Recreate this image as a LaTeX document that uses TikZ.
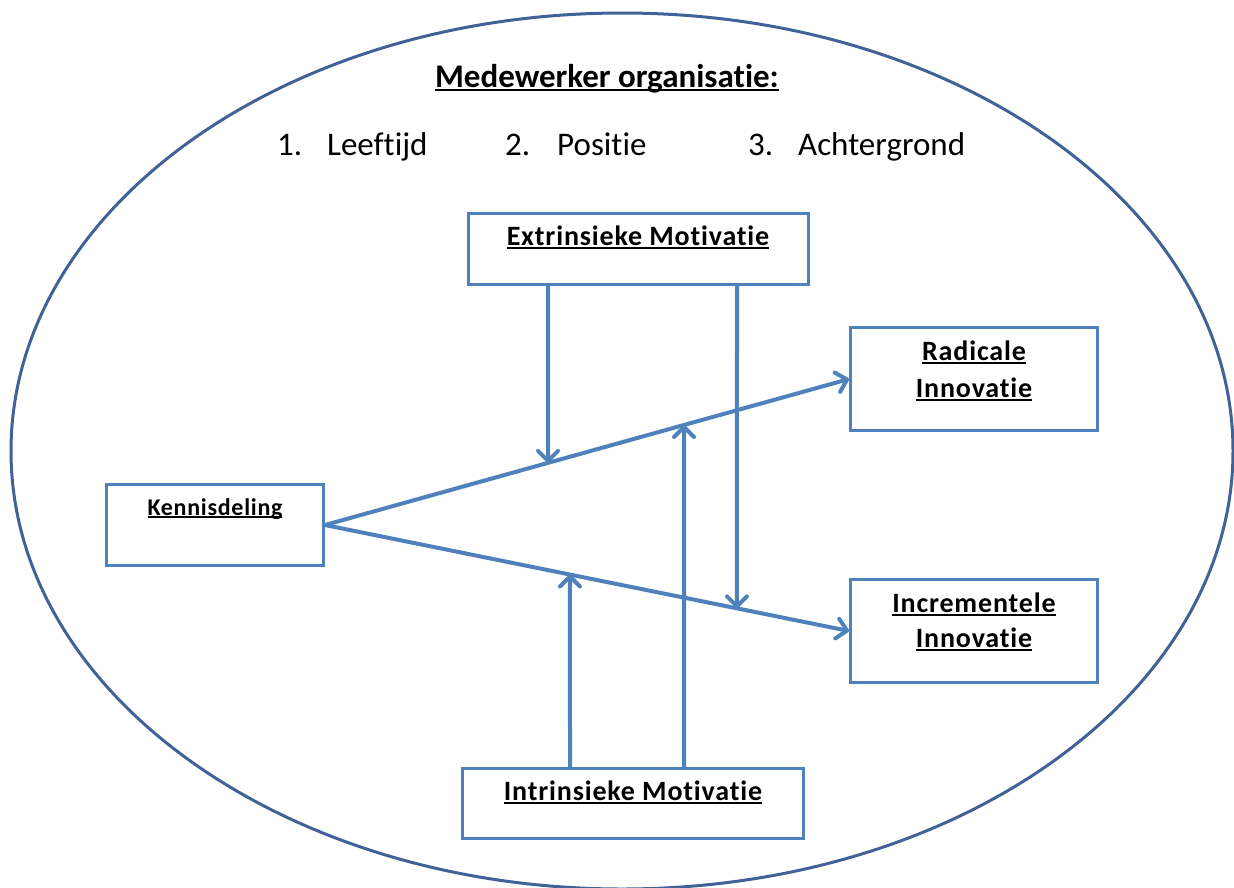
\documentclass[tikz,border=0pt]{standalone}
\usepackage{fontspec}
\setmainfont{Carlito}[RawFeature=-liga]
\newfontfamily\boxfont{Carlito}[LetterSpace=3,RawFeature=-liga]
\usetikzlibrary{arrows.meta,shapes.geometric}
\definecolor{boxblue}{RGB}{79,129,189}
\definecolor{ellblue}{RGB}{64,98,150}
\newcommand\myul[1]{\setbox0\hbox{#1}\rlap{\rule[-0.13em]{\wd0}{0.07em}}\box0}
\begin{document}
\begin{tikzpicture}[x=1pt,y=-1pt,
  boxst/.style={draw=boxblue,line width=3pt,rectangle,inner sep=0pt},
  lbl/.style={anchor=base,inner sep=0pt,font=\boxfont\bfseries\fontsize{28}{32}\selectfont},
  arr/.style={draw=boxblue,line width=4pt,-{Straight Barb[length=10pt,width=20pt,round,line width=4pt 0 1]}},
  ttl/.style={anchor=base,inner sep=0pt,font=\bfseries\fontsize{33}{36}\selectfont},
  item/.style={anchor=base west,inner sep=0pt,font=\fontsize{33}{36}\selectfont}]
\useasboundingbox (0,0) rectangle (1234,887);
% outer ellipse
\node[draw=ellblue,line width=3pt,ellipse,minimum width=1222pt,minimum height=876pt,inner sep=0pt] (org) at (622,451) {};
% title and list
\node[ttl] (title) at (607,87) {\myul{Medewerker organisatie:}};
\node[item] (l1) at (277,155) {\makebox[50pt][l]{1.}Leeftijd};
\node[item] (l2) at (505,155) {\makebox[52pt][l]{2.}Positie};
\node[item] (l3) at (748,155) {\makebox[50pt][l]{3.}Achtergrond};
% boxes
\node[boxst,minimum width=340pt,minimum height=71pt] (extr) at (638.5,248.5) {};
\node[boxst,minimum width=247pt,minimum height=103pt] (rad) at (974,379) {};
\node[boxst,minimum width=217pt,minimum height=81pt] (kennis) at (215,525) {};
\node[boxst,minimum width=247pt,minimum height=103pt] (incr) at (974,631) {};
\node[boxst,minimum width=341pt,minimum height=70pt] (intr) at (633,803.5) {};
% box labels
\node[lbl] (extrT) at (638,245) {\myul{Extrinsieke Motivatie}};
\node[lbl] (radT1) at (974,360) {\myul{Radicale}};
\node[lbl] (radT2) at (974,397) {\myul{Innovatie}};
\node[lbl,font=\boxfont\bfseries\fontsize{24}{28}\selectfont] (kennisT) at (215,515) {\myul{Kennisdeling}};
\node[lbl] (incrT1) at (974,612) {\myul{Incrementele}};
\node[lbl] (incrT2) at (974,647) {\myul{Innovatie}};
\node[lbl] (intrT) at (633,800) {\myul{Intrinsieke Motivatie}};
% main arrows
\draw[arr] (kennis.east) -- (rad.west);
\draw[arr] (kennis.east) -- (incr.west);
% moderating arrows
\coordinate (xa) at (548,0);
\coordinate (xb) at (737,0);
\coordinate (xc) at (570,0);
\coordinate (xd) at (684,0);
\draw[arr] (extr.south -| xa) -- (intersection of kennis.east--rad.west and xa--{548,887});
\draw[arr] (extr.south -| xb) -- (intersection of kennis.east--incr.west and xb--{737,887});
\draw[arr] (intr.north -| xc) -- (intersection of kennis.east--incr.west and xc--{570,887});
\draw[arr] (intr.north -| xd) -- (intersection of kennis.east--rad.west and xd--{684,887});
\end{tikzpicture}
\end{document}
